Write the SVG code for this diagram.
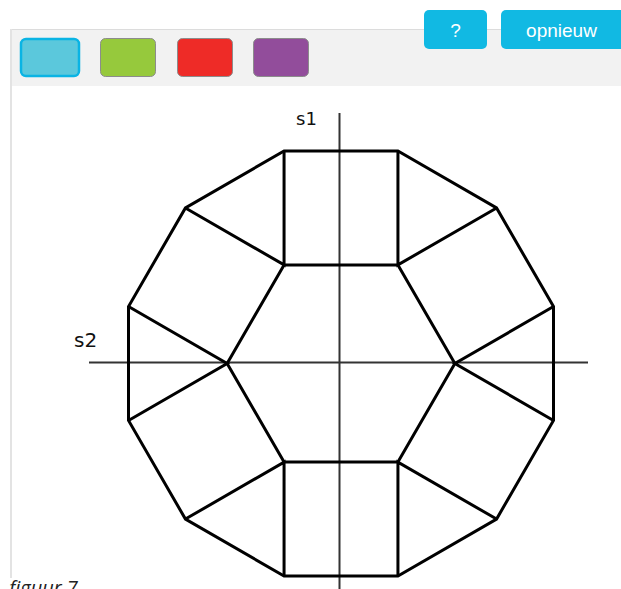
<svg xmlns="http://www.w3.org/2000/svg" width="621" height="589" viewBox="0 0 621 589">
<style>
.swatch{stroke:#8c8c8c;stroke-width:1}
.btn{fill:#11b9e3}
.btntxt{font-family:"Liberation Sans",Arial,sans-serif;font-size:19px;fill:#ffffff;text-anchor:middle}
.fig{fill:none;stroke:#000;stroke-width:3;stroke-linejoin:miter}
.axis{stroke:#333;stroke-width:2}
.lbl{font-family:"DejaVu Sans",sans-serif;fill:#111}
</style>
<rect width="621" height="589" fill="#ffffff"/>
<g id="toolbar">
<rect x="11" y="29" width="612" height="57" fill="#f2f2f2"/>
<line x1="11" y1="29.5" x2="621" y2="29.5" stroke="#dcdcdc" stroke-width="1"/>
<line x1="11" y1="29" x2="11" y2="578" stroke="#e3e3e3" stroke-width="2"/>
</g>
<g id="swatch-cyan"><rect x="21" y="39" width="58" height="37" rx="5" fill="#5bc8dc" stroke="#0ab4e4" stroke-width="2.5"/></g>
<g id="swatch-green"><rect class="swatch" x="100.5" y="38.5" width="55" height="38" rx="5" fill="#96c93c"/></g>
<g id="swatch-red"><rect class="swatch" x="177.5" y="38.5" width="55" height="38" rx="5" fill="#ee2b27"/></g>
<g id="swatch-purple"><rect class="swatch" x="253.5" y="38.5" width="55" height="38" rx="5" fill="#924d9b"/></g>
<g id="btn-help"><rect class="btn" x="424" y="10" width="63" height="39" rx="5"/><text class="btntxt" x="455.5" y="37">?</text></g>
<g id="btn-opnieuw"><rect class="btn" x="501" y="10" width="126" height="39" rx="5"/><text class="btntxt" x="561.5" y="37">opnieuw</text></g>
<g id="axes">
<line class="axis" x1="339.5" y1="113" x2="339.5" y2="589"/>
<line class="axis" x1="89" y1="362.5" x2="588" y2="362.5"/>
<text class="lbl" x="296" y="125" font-size="18">s1</text>
<text class="lbl" x="74" y="347" font-size="20">s2</text>
</g>
<g id="figure">
<polygon id="dodecagon" class="fig" points="553.50,306.56 496.56,207.94 397.94,151.00 284.06,151.00 185.44,207.94 128.50,306.56 128.50,420.44 185.44,519.06 284.06,576.00 397.94,576.00 496.56,519.06 553.50,420.44"/>
<polygon id="hexagon" class="fig" points="454.88,363.5 397.94,264.88 284.06,264.88 227.12,363.5 284.06,462.12 397.94,462.12"/>
<path id="spokes" class="fig" d="M553.50,306.56 L454.88,363.5 L553.50,420.44 M496.56,207.94 L397.94,264.88 L397.94,151.00 M284.06,151.00 L284.06,264.88 L185.44,207.94 M128.50,306.56 L227.12,363.5 L128.50,420.44 M185.44,519.06 L284.06,462.12 L284.06,576.00 M397.94,576.00 L397.94,462.12 L496.56,519.06"/>
</g>
<text x="9" y="595" font-family="'Open Sans',sans-serif" font-style="italic" font-size="20" fill="#222">figuur 7</text>
</svg>
